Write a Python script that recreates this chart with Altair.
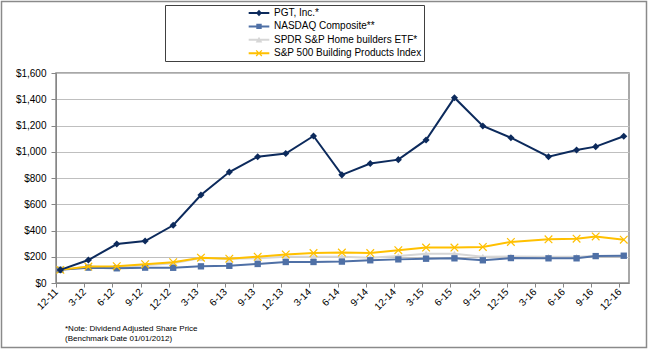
import altair as alt
import pandas as pd

# ---------------- data ----------------
tick_labels = ["12-11", "3-12", "6-12", "9-12", "12-12", "3-13", "6-13", "9-13", "12-13",
               "3-14", "6-14", "9-14", "12-14", "3-15", "6-15", "9-15", "12-15",
               "3-16", "6-16", "9-16", "12-16"]

dates = ["2011-12-15", "2012-03-15", "2012-06-15", "2012-09-15", "2012-12-15",
         "2013-03-15", "2013-06-15", "2013-09-15", "2013-12-15", "2014-03-15",
         "2014-06-15", "2014-09-15", "2014-12-15", "2015-03-15", "2015-06-15",
         "2015-09-15", "2015-12-15", "2016-04-15", "2016-07-15", "2016-09-15",
         "2016-12-15"]

series_names = ["PGT, Inc.*", "NASDAQ Composite**", "SPDR S&P Home builders ETF*",
                "S&P 500 Building Products Index"]

pgt = [100, 175, 297, 320, 440, 670, 845, 962, 986, 1120, 824, 910, 940, 1090, 1412,
       1196, 1107, 962, 1013, 1039, 1118]
nasdaq = [100, 117, 112, 117, 116, 127, 131, 145, 160, 160, 163, 173, 180, 185, 188,
          173, 190, 188, 188, 205, 208]
spdr = [100, 125, 118, 135, 150, 190, 185, 188, 200, 200, 200, 192, 205, 222, 222,
        200, 202, 200, 200, 205, 205]
sp500bp = [100, 125, 128, 143, 158, 193, 185, 200, 218, 228, 232, 228, 250, 270, 270,
           275, 313, 333, 338, 355, 330]

note_lines = ["*Note: Dividend Adjusted Share Price", "(Benchmark  Date 01/01/2012)"]

# ---------------- styles ----------------
colors = ["#0C2A5C", "#4F70A6", "#D6D6D6", "#FFC000"]
X_PATH = "M-1,-0.8L-0.8,-1L1,0.8L0.8,1Z M1,-0.8L-0.8,1L-1,0.8L0.8,-1Z"
marker_shapes = ["diamond", "square", "triangle-up", X_PATH]
marker_sizes = [50, 40, 48, 72]

LINE = "M-1.72,-0.17H1.72V0.17H-1.72Z "
legend_shapes = [
    LINE + "M0,-0.55L0.5,0L0,0.55L-0.5,0Z",
    LINE + "M-0.45,-0.45H0.45V0.45H-0.45Z",
    LINE + "M0,-0.5L0.55,0.45H-0.55Z",
    LINE + "M-0.55,-0.4L-0.4,-0.55L0.55,0.4L0.4,0.55Z M0.55,-0.4L-0.4,0.55L-0.55,0.4L0.4,-0.55Z",
]

FONT = "Liberation Sans"

rows = []
for name, vals in zip(series_names, [pgt, nasdaq, spdr, sp500bp]):
    for d, v in zip(dates, vals):
        rows.append({"date": d, "value": v, "series": name})
df = pd.DataFrame(rows)


def label_to_dt(lbl):
    m, y = lbl.split("-")
    return alt.DateTime(year=2000 + int(y), month=int(m), date=1, utc=True)


tick_values = [label_to_dt(t) for t in tick_labels]

x_enc = alt.X(
    "date:T",
    scale=alt.Scale(type="utc",
                    domain=[alt.DateTime(year=2011, month=12, date=1, utc=True),
                            alt.DateTime(year=2017, month=1, date=1, utc=True)]),
    axis=alt.Axis(values=tick_values, labelExpr="utcFormat(datum.value, '%-m-%y')",
                  labelAngle=-45, labelAlign="right", labelBaseline="middle",
                  labelFontSize=10, labelColor="black", labelPadding=3,
                  tickSize=4, tickColor="#868686", domainColor="#868686",
                  grid=False, title=None, labelOverlap=False),
)
y_enc = alt.Y(
    "value:Q",
    scale=alt.Scale(domain=[0, 1600], nice=False),
    axis=alt.Axis(values=list(range(0, 1601, 200)), format="$,.0f", grid=True,
                  gridColor="#BFBFBF", gridWidth=1, tickSize=5, tickColor="#868686",
                  domainColor="#868686", labelFontSize=10, labelColor="black",
                  labelPadding=5, title=None),
)

base = alt.Chart(df).encode(x=x_enc, y=y_enc)

layers = []
for i in [2, 1, 3, 0]:
    name = series_names[i]
    sub = base.transform_filter(alt.datum.series == name)
    layers.append(sub.mark_line(color=colors[i], strokeWidth=2))
    layers.append(sub.mark_point(filled=True, shape=marker_shapes[i], size=marker_sizes[i],
                                 color=colors[i], opacity=1, strokeWidth=0))

legend_props = dict(orient="none", legendX=109, legendY=-68, title=" ", titleOrient="left",
                    titlePadding=86, titleFontSize=10, symbolSize=144, symbolStrokeWidth=0,
                    labelFontSize=10, labelFont=FONT, labelColor="black", labelOffset=9,
                    rowPadding=2.4, padding=2, strokeColor="#404040", fillColor="white",
                    labelLimit=400, symbolOpacity=1)

legend_layer = base.transform_filter("false").mark_point(filled=True, opacity=1).encode(
    color=alt.Color("series:N", scale=alt.Scale(domain=series_names, range=colors),
                    legend=alt.Legend(**legend_props)),
    shape=alt.Shape("series:N", scale=alt.Scale(domain=series_names, range=legend_shapes),
                    legend=alt.Legend(**legend_props)),
)

frame = alt.Chart(pd.DataFrame({"k": [0]})).mark_rect(
    fillOpacity=0, stroke="#8a8a8a", strokeWidth=1.5
).encode(x=alt.value(-54.5), x2=alt.value(590.5), y=alt.value(-71.5), y2=alt.value(274.5))

chart = alt.layer(*layers, legend_layer, frame).properties(
    width=573, height=210,
    padding={"left": 56, "top": 73, "right": 19, "bottom": 67},
    autosize=alt.AutoSizeParams(type="none"),
    title=alt.TitleParams(text=note_lines, orient="bottom", anchor="start", frame="group",
                          fontSize=8, fontWeight="normal", color="black", lineHeight=9.5,
                          offset=-23, dx=9, font=FONT),
).configure(font=FONT).configure_view(stroke="#8c8c8c", strokeWidth=1.5)

chart.save("out.html", embed_options={"renderer": "svg", "actions": False})
